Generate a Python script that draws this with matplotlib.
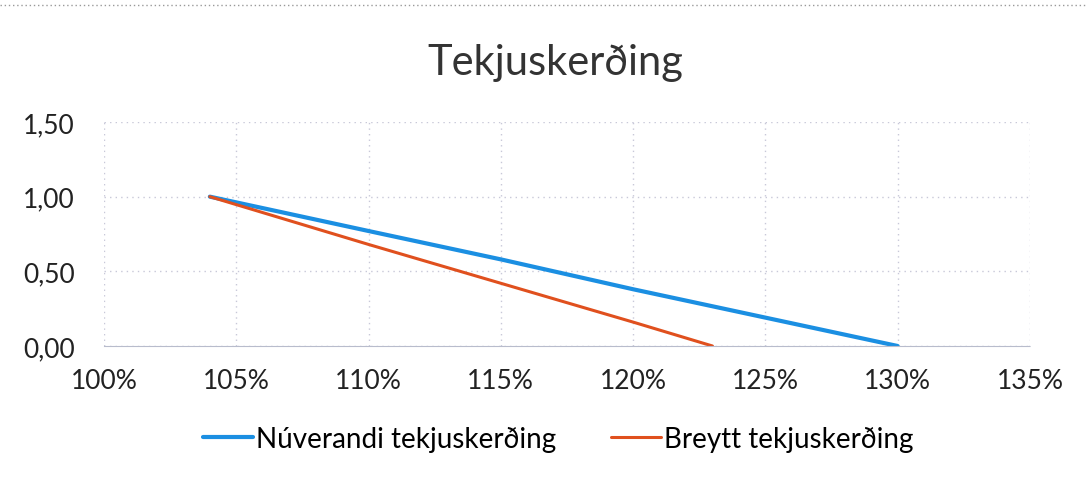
import numpy as np
import matplotlib.pyplot as plt
from matplotlib.ticker import FuncFormatter

plt.rcParams['font.family'] = ['Lato', 'DejaVu Sans']

# hlutfall (%) og tekjuskerding
x_nuv = [104, 110, 115, 120, 125, 130]
y_nuv = [1.00, 0.77, 0.58, 0.38, 0.19, 0.00]
x_bre = [104, 110, 115, 120, 123]
y_bre = [1.00, 0.68, 0.42, 0.16, 0.00]
lab_nuv = 'Núverandi tekjuskerðing'
lab_bre = 'Breytt tekjuskerðing'

fig = plt.figure(figsize=(10.88, 4.81), dpi=100)
ax = fig.add_axes([0.0956, 0.2786, 0.851, 0.4657])

ax.plot(x_nuv, y_nuv, color='#1b8fe2', lw=3, label=lab_nuv, solid_capstyle='round')
ax.plot(x_bre, y_bre, color='#e0501e', lw=2.2, label=lab_bre, solid_capstyle='round')

ax.set_xlim(100, 135)
ax.set_ylim(0, 1.5)
ax.set_xticks(np.arange(100, 136, 5))
ax.set_yticks([0, 0.5, 1.0, 1.5])
ax.xaxis.set_major_formatter(FuncFormatter(lambda v, p: '%d%%' % v))
ax.yaxis.set_major_formatter(FuncFormatter(lambda v, p: ('%.2f' % v).replace('.', ',')))
ax.tick_params(length=0, labelsize=19, colors='#222222')
ax.tick_params(axis='x', pad=16)
ax.tick_params(axis='y', pad=21)

ax.grid(True, color='#c8c8d8', ls=(0, (1, 3)), lw=1)
for s in ['top', 'right', 'left']:
    ax.spines[s].set_visible(False)
ax.spines['bottom'].set_color('#b8bccc')
ax.spines['bottom'].set_linestyle((0, (2, 1)))

fig.text(0.51, 0.87, 'Tekjuskerðing', ha='center', va='center', fontsize=30, color='#333333')
fig.legend(loc='center', bbox_to_anchor=(0.513, 0.085), ncol=2, frameon=False,
           fontsize=20, handlelength=1.8, handletextpad=0.1, columnspacing=2.0)

# dottud lina efst (rammi)
fig.add_artist(plt.Line2D([0, 1], [0.988, 0.988], transform=fig.transFigure,
                          color='#999999', ls=(0, (1, 2)), lw=1))

fig.savefig('out.png', dpi=100)
